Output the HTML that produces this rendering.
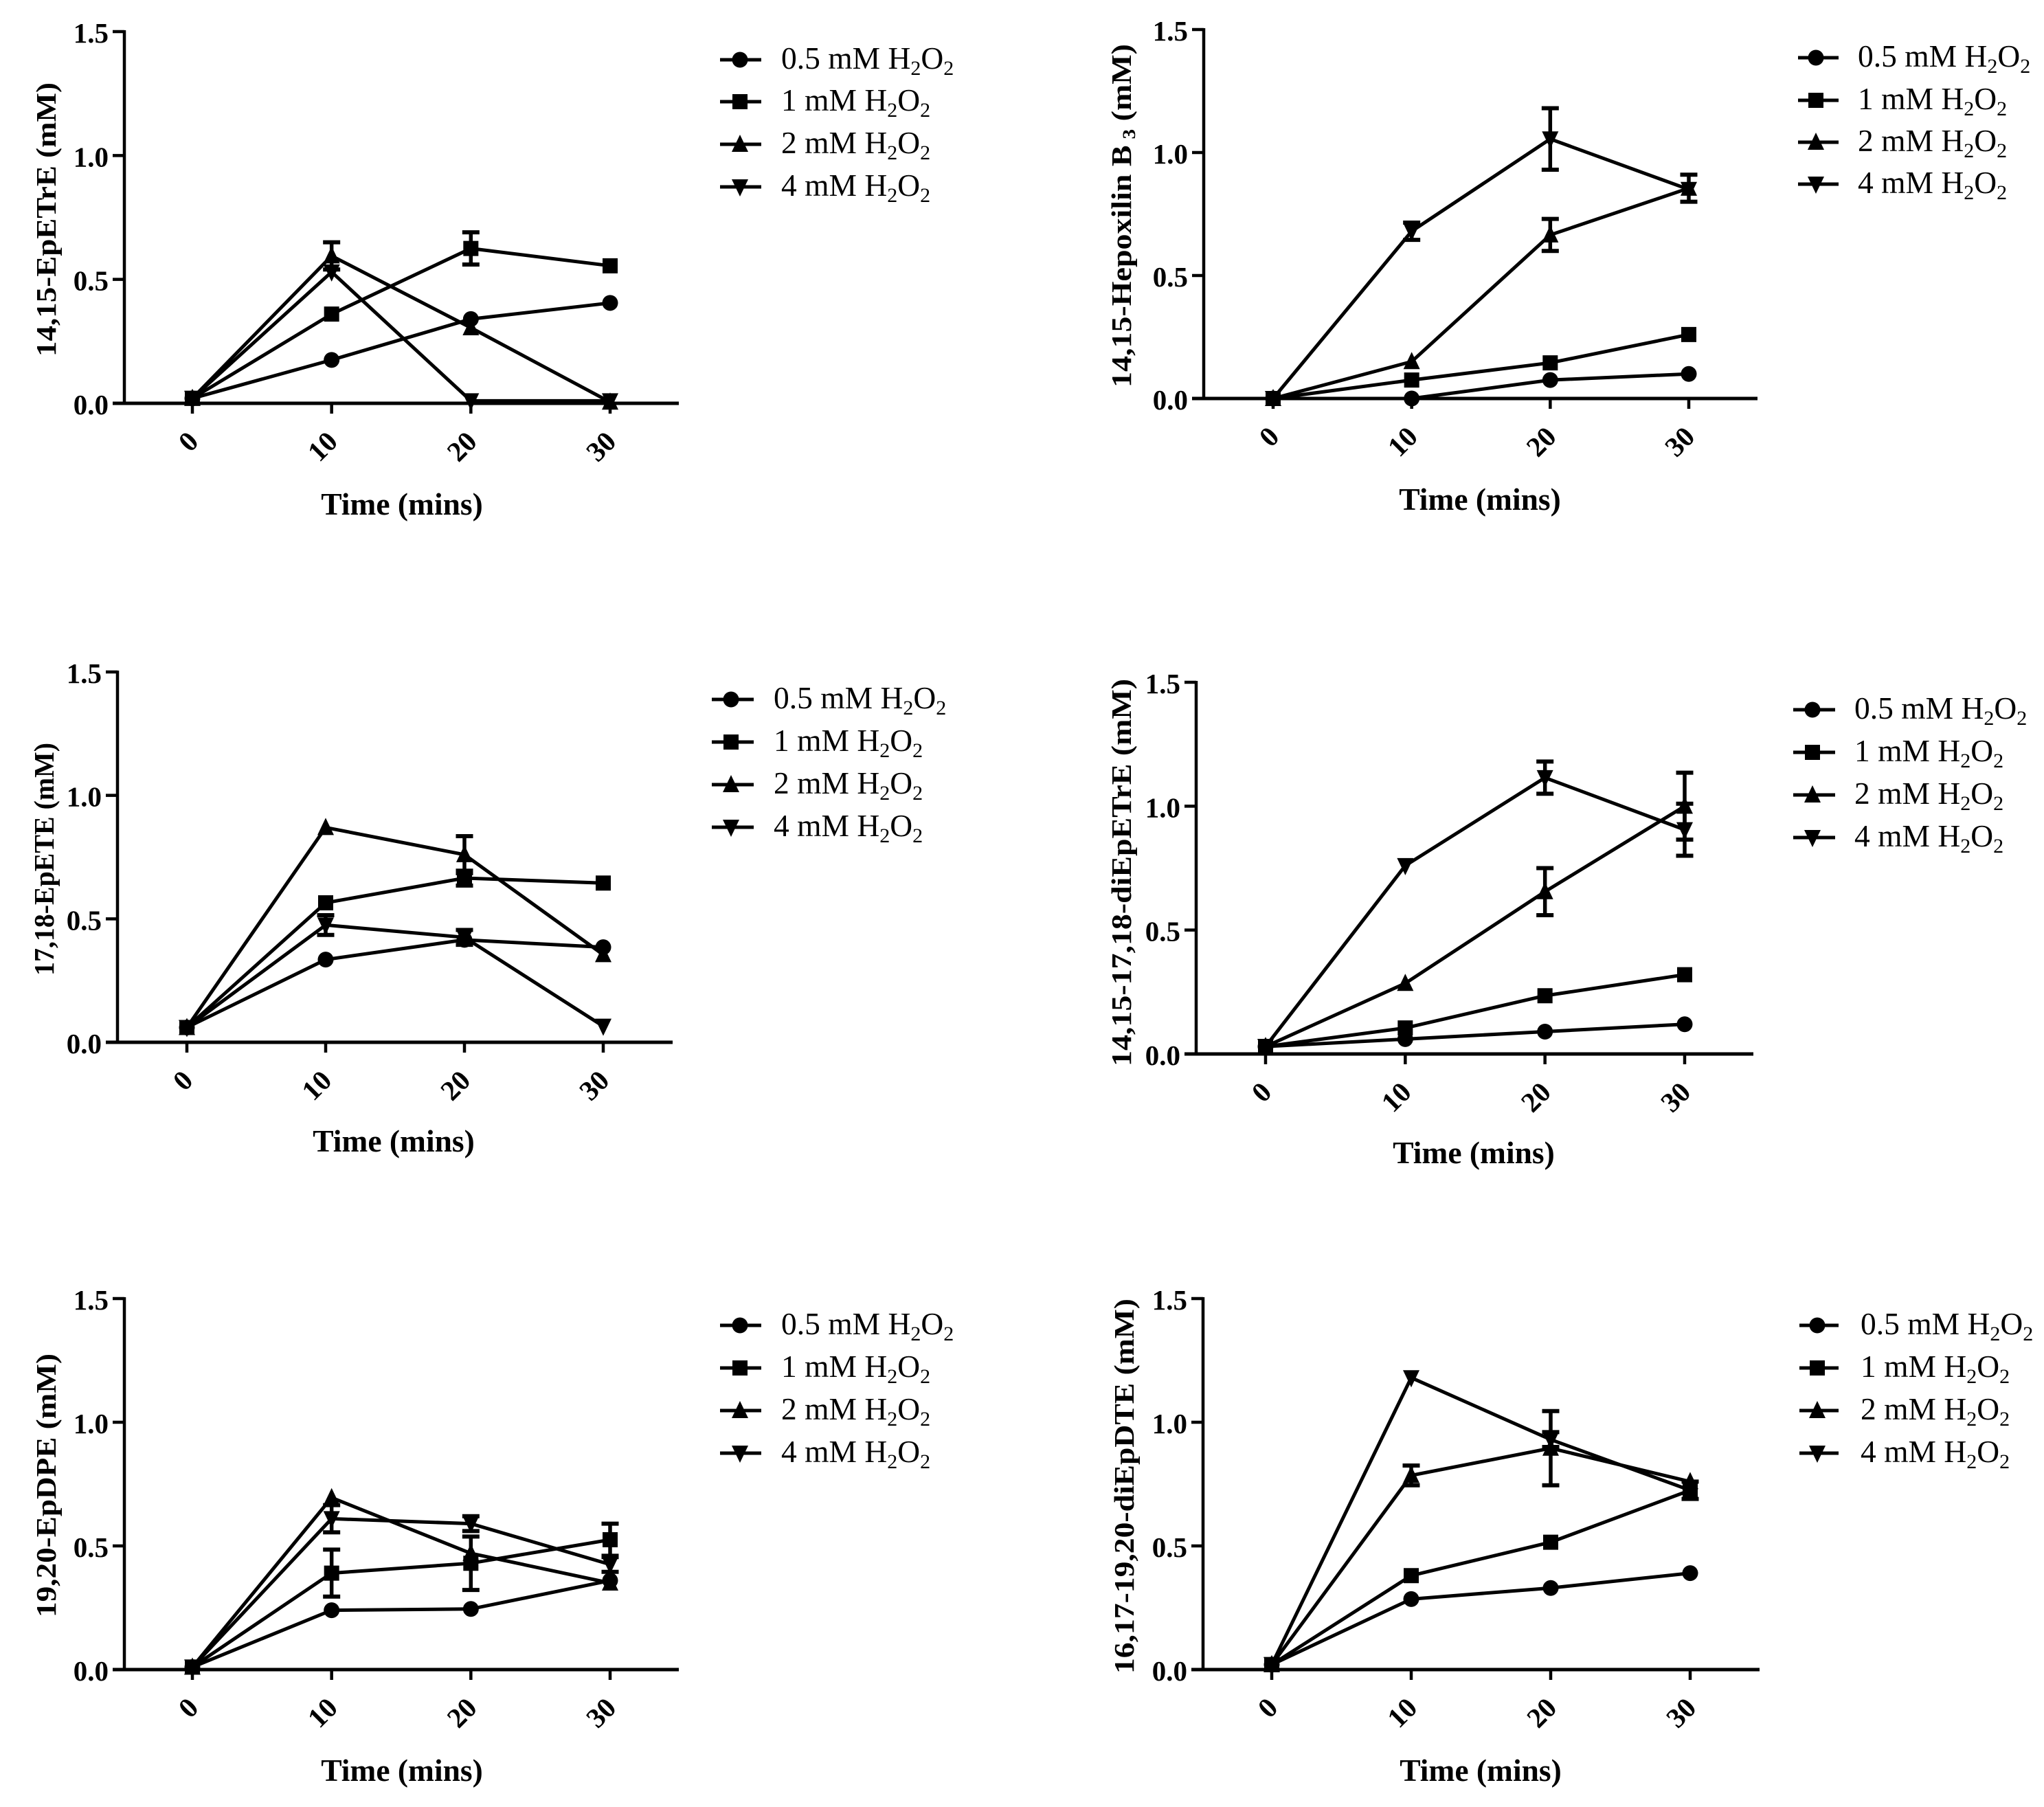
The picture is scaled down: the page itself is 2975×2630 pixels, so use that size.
<!DOCTYPE html>
<html lang="en">
<head>
<meta charset="utf-8">
<title>Epoxide formation time courses</title>
<style>
html,body{margin:0;padding:0;background:#fff;}
svg{display:block;}
text{font-family:"Liberation Serif",serif;fill:#000;}
.bold{font-weight:bold;}
</style>
</head>
<body>
<svg id="figure" xmlns="http://www.w3.org/2000/svg" width="2975" height="2630" viewBox="0 0 2975 2630"></svg>
<script>
// ---- shared data ----
const timeValues = [0, 10, 20, 30];
const timeTickLabels = ['0', '10', '20', '30'];
const concentrationTicks = [0, 0.5, 1, 1.5];
const concentrationTickLabels = ['0.0', '0.5', '1.0', '1.5'];
const legendConcentrations = ['0.5 mM H', '1 mM H', '2 mM H', '4 mM H'];
const markerKinds = ['circle', 'square', 'triangle-up', 'triangle-down'];

// ---- panel 1: 14,15-EpETrE ----
const epetreConc05 = [0.02, 0.175, 0.34, 0.405];
const epetreConc1 = [0.02, 0.36, 0.625, 0.555];
const epetreConc2 = [0.02, 0.595, 0.305, 0.005];
const epetreConc4 = [0.02, 0.53, 0.01, 0.01];
const epetreErr05 = [0, 0, 0, 0];
const epetreErr1 = [0, 0, 0.065, 0];
const epetreErr2 = [0, 0.055, 0, 0];
const epetreErr4 = [0, 0, 0, 0];

// ---- panel 2: 14,15-Hepoxilin B3 ----
const hepoxilinConc05 = [0, 0, 0.075, 0.1];
const hepoxilinConc1 = [0, 0.075, 0.145, 0.26];
const hepoxilinConc2 = [0, 0.15, 0.665, 0.855];
const hepoxilinConc4 = [0, 0.68, 1.055, 0.85];
const hepoxilinErr05 = [0, 0, 0, 0];
const hepoxilinErr1 = [0, 0, 0, 0];
const hepoxilinErr2 = [0, 0, 0.065, 0.055];
const hepoxilinErr4 = [0, 0.035, 0.125, 0];

// ---- panel 3: 17,18-EpETE ----
const epeteConc05 = [0.06, 0.335, 0.415, 0.385];
const epeteConc1 = [0.06, 0.565, 0.665, 0.645];
const epeteConc2 = [0.06, 0.87, 0.76, 0.355];
const epeteConc4 = [0.06, 0.475, 0.425, 0.065];
const epeteErr05 = [0, 0, 0, 0];
const epeteErr1 = [0, 0, 0.03, 0];
const epeteErr2 = [0, 0, 0.075, 0];
const epeteErr4 = [0, 0.04, 0.03, 0];

// ---- panel 4: 14,15-17,18-diEpETrE ----
const diEpetreConc05 = [0.03, 0.06, 0.09, 0.12];
const diEpetreConc1 = [0.03, 0.105, 0.235, 0.32];
const diEpetreConc2 = [0.03, 0.285, 0.655, 1.0];
const diEpetreConc4 = [0.03, 0.76, 1.115, 0.905];
const diEpetreErr05 = [0, 0, 0, 0];
const diEpetreErr1 = [0, 0, 0, 0];
const diEpetreErr2 = [0, 0, 0.095, 0.135];
const diEpetreErr4 = [0, 0, 0.065, 0.105];

// ---- panel 5: 19,20-EpDPE ----
const epdpeConc05 = [0.01, 0.24, 0.245, 0.36];
const epdpeConc1 = [0.01, 0.39, 0.43, 0.525];
const epdpeConc2 = [0.01, 0.695, 0.47, 0.35];
const epdpeConc4 = [0.01, 0.61, 0.59, 0.425];
const epdpeErr05 = [0, 0, 0, 0];
const epdpeErr1 = [0, 0.095, 0.108, 0.065];
const epdpeErr2 = [0, 0, 0, 0];
const epdpeErr4 = [0, 0.055, 0.03, 0.03];

// ---- panel 6: 16,17-19,20-diEpDTE ----
const diEpdteConc05 = [0.02, 0.285, 0.33, 0.39];
const diEpdteConc1 = [0.02, 0.38, 0.515, 0.725];
const diEpdteConc2 = [0.02, 0.785, 0.895, 0.76];
const diEpdteConc4 = [0.02, 1.18, 0.93, 0.725];
const diEpdteErr05 = [0, 0, 0, 0];
const diEpdteErr1 = [0, 0, 0, 0.035];
const diEpdteErr2 = [0, 0.04, 0.15, 0];
const diEpdteErr4 = [0, 0, 0.03, 0];

// ---- panel titles ----
const panelNames = ['epetre', 'hepoxilin', 'epete', 'diepetre', 'epdpe', 'diepdte'];
const panelTitles = ['14,15-EpETrE (mM)', '14,15-Hepoxilin B|3| (mM)', '17,18-EpETE (mM)', '14,15-17,18-diEpETrE (mM)', '19,20-EpDPE (mM)', '16,17-19,20-diEpDTE (mM)'];
const panelSeries = [
  [epetreConc05, epetreConc1, epetreConc2, epetreConc4],
  [hepoxilinConc05, hepoxilinConc1, hepoxilinConc2, hepoxilinConc4],
  [epeteConc05, epeteConc1, epeteConc2, epeteConc4],
  [diEpetreConc05, diEpetreConc1, diEpetreConc2, diEpetreConc4],
  [epdpeConc05, epdpeConc1, epdpeConc2, epdpeConc4],
  [diEpdteConc05, diEpdteConc1, diEpdteConc2, diEpdteConc4]
];
const panelErrors = [
  [epetreErr05, epetreErr1, epetreErr2, epetreErr4],
  [hepoxilinErr05, hepoxilinErr1, hepoxilinErr2, hepoxilinErr4],
  [epeteErr05, epeteErr1, epeteErr2, epeteErr4],
  [diEpetreErr05, diEpetreErr1, diEpetreErr2, diEpetreErr4],
  [epdpeErr05, epdpeErr1, epdpeErr2, epdpeErr4],
  [diEpdteErr05, diEpdteErr1, diEpdteErr2, diEpdteErr4]
];

// ---- layout (frame geometry only, no data) ----
const frames = [
  {axisX:181, right:988, top:46, base:587, t0:280, t30:888, titleX:81, titleA:120, titleB:519, timeX:585, timeY:749, legMark:1077, legL:1048, legR:1108, legText:1137, legY:[87,148,210,272]},
  {axisX:1752, right:2558, top:43, base:580, t0:1853, t30:2458, titleX:1646, titleA:64, titleB:564, timeX:2154, timeY:742, legMark:2643, legL:2617, legR:2676, legText:2704, legY:[84,146,207,268]},
  {axisX:171, right:979, top:978, base:1517, t0:272, t30:878, titleX:78, titleA:1081, titleB:1420, timeX:573, timeY:1676, legMark:1064, legL:1036, legR:1097, legText:1126, legY:[1018,1080,1142,1204]},
  {axisX:1741, right:2552, top:993, base:1534, t0:1842, t30:2452, titleX:1646, titleA:988, titleB:1552, timeX:2145, timeY:1693, legMark:2638, legL:2610, legR:2671, legText:2699, legY:[1033,1095,1157,1219]},
  {axisX:181, right:988, top:1890, base:2430, t0:280, t30:888, titleX:81, titleA:1970, titleB:2354, timeX:585, timeY:2592, legMark:1077, legL:1048, legR:1108, legText:1137, legY:[1929,1991,2053,2115]},
  {axisX:1751, right:2561, top:1890, base:2430, t0:1851, t30:2460, titleX:1650, titleA:1890, titleB:2436, timeX:2155, timeY:2592, legMark:2645, legL:2619, legR:2676, legText:2708, legY:[1929,1991,2053,2115]}
];

const NS = 'http://www.w3.org/2000/svg';
const fig = document.getElementById('figure');

function mk(tag, parent) {
  const el = document.createElementNS(NS, tag);
  parent.appendChild(el);
  return el;
}
function line(parent, x1, y1, x2, y2, w) {
  const l = mk('line', parent);
  l.setAttribute('x1', x1); l.setAttribute('y1', y1);
  l.setAttribute('x2', x2); l.setAttribute('y2', y2);
  l.setAttribute('stroke', '#000');
  l.setAttribute('stroke-width', w);
  return l;
}
function markerPath(kind, x, y) {
  if (kind === 'circle') {
    const r = 11.5;
    return `M${x-r} ${y}A${r} ${r} 0 1 0 ${x+r} ${y}A${r} ${r} 0 1 0 ${x-r} ${y}Z`;
  }
  if (kind === 'square') {
    const s = 11;
    return `M${x-s} ${y-s}H${x+s}V${y+s}H${x-s}Z`;
  }
  if (kind === 'triangle-up') {
    return `M${x} ${y-14}L${x+12} ${y+11}H${x-12}Z`;
  }
  return `M${x} ${y+14}L${x+12} ${y-11}H${x-12}Z`;
}

function drawPanel(i) {
  const f = frames[i];
  const series = panelSeries[i];
  const errors = panelErrors[i];
  const xScale = v => f.t0 + (v - timeValues[0]) / (timeValues[timeValues.length-1] - timeValues[0]) * (f.t30 - f.t0);
  const yMax = concentrationTicks[concentrationTicks.length-1];
  const yScale = v => f.base - v / yMax * (f.base - f.top);
  const leftEnd = f.axisX - 17;

  const g = mk('g', fig);
  
  

  // y axis
  const yAxis = line(g, f.axisX, f.top - 2, f.axisX, f.base + 2, 4.5);
  
  
  concentrationTicks.forEach((t, k) => {
    const tick = line(g, leftEnd, yScale(t), f.axisX, yScale(t), 4.5);
    
    
    const lab = mk('text', g);
    
    
    lab.setAttribute('class', 'bold');
    lab.setAttribute('x', f.axisX - 23);
    lab.setAttribute('y', yScale(t) + 16);
    lab.setAttribute('text-anchor', 'end');
    lab.setAttribute('font-size', '41');
    lab.textContent = concentrationTickLabels[k];
  });

  // x axis
  const xAxis = line(g, leftEnd, f.base, f.right, f.base, 5);
  
  
  timeValues.forEach((t, k) => {
    const tick = line(g, xScale(t), f.base, xScale(t), f.base + 15, 4.5);
    
    
    const lab = mk('text', g);
    
    
    lab.setAttribute('class', 'bold');
    lab.setAttribute('text-anchor', 'end');
    lab.setAttribute('font-size', '41');
    lab.setAttribute('transform', `translate(${xScale(t) + 11},${f.base + 58}) rotate(-45)`);
    lab.textContent = timeTickLabels[k];
  });

  // axis titles
  const timeTitle = mk('text', g);
  
  
  timeTitle.setAttribute('class', 'bold');
  timeTitle.setAttribute('x', f.timeX);
  timeTitle.setAttribute('y', f.timeY);
  timeTitle.setAttribute('text-anchor', 'middle');
  timeTitle.setAttribute('font-size', '45.5');
  timeTitle.textContent = 'Time (mins)';

  const yTitle = mk('text', g);
  
  
  yTitle.setAttribute('class', 'bold');
  yTitle.setAttribute('text-anchor', 'middle');
  yTitle.setAttribute('font-size', '41');
  yTitle.setAttribute('textLength', f.titleB - f.titleA);
  yTitle.setAttribute('lengthAdjust', 'spacingAndGlyphs');
  yTitle.setAttribute('transform', `translate(${f.titleX},${(f.titleA + f.titleB) / 2}) rotate(-90)`);
  panelTitles[i].split('|').forEach((part, k) => {
    const ts = mk('tspan', yTitle);
    if (k === 1) {
      ts.setAttribute('font-size', '26');
      ts.setAttribute('dy', '6');
      ts.setAttribute('dx', '8');
    } else if (k === 2) {
      ts.setAttribute('dy', '-6');
    }
    ts.textContent = part;
  });

  // series
  series.forEach((vals, s) => {
    const sg = mk('g', g);
    
    

    const pl = mk('polyline', sg);
    
    
    pl.setAttribute('fill', 'none');
    pl.setAttribute('stroke', '#000');
    pl.setAttribute('stroke-width', '5');
    pl.setAttribute('points', vals.map((v, k) => xScale(timeValues[k]) + ',' + yScale(v)).join(' '));

    vals.forEach((v, k) => {
      const e = errors[s][k];
      const px = xScale(timeValues[k]);
      if (e > 0) {
        const eg = mk('g', sg);
        
        
        line(eg, px, yScale(v + e), px, yScale(v - e), 5.5);
        line(eg, px - 12.5, yScale(v + e), px + 12.5, yScale(v + e), 6);
        line(eg, px - 12.5, yScale(v - e), px + 12.5, yScale(v - e), 6);
      }
      const m = mk('path', sg);
      
      
      m.setAttribute('d', markerPath(markerKinds[s], px, yScale(v)));
      m.setAttribute('fill', '#000');
    });
  });

  // legend
  const lg = mk('g', g);
  
  
  legendConcentrations.forEach((label, s) => {
    const ly = f.legY[s];
    const eg = mk('g', lg);
    
    
    line(eg, f.legL, ly, f.legR, ly, 5);
    const m = mk('path', eg);
    m.setAttribute('d', markerPath(markerKinds[s], f.legMark, ly));
    m.setAttribute('fill', '#000');
    const t = mk('text', eg);
    t.setAttribute('x', f.legText);
    t.setAttribute('y', ly + 13);
    t.setAttribute('font-size', '45.5');
    const a = mk('tspan', t);
    a.textContent = label;
    const b = mk('tspan', t);
    b.setAttribute('font-size', '30');
    b.setAttribute('dy', '9');
    b.textContent = '2';
    const c = mk('tspan', t);
    c.setAttribute('dy', '-9');
    c.textContent = 'O';
    const d = mk('tspan', t);
    d.setAttribute('font-size', '30');
    d.setAttribute('dy', '9');
    d.textContent = '2';
  });
}

panelNames.forEach((n, i) => drawPanel(i));
</script>
</body>
</html>
